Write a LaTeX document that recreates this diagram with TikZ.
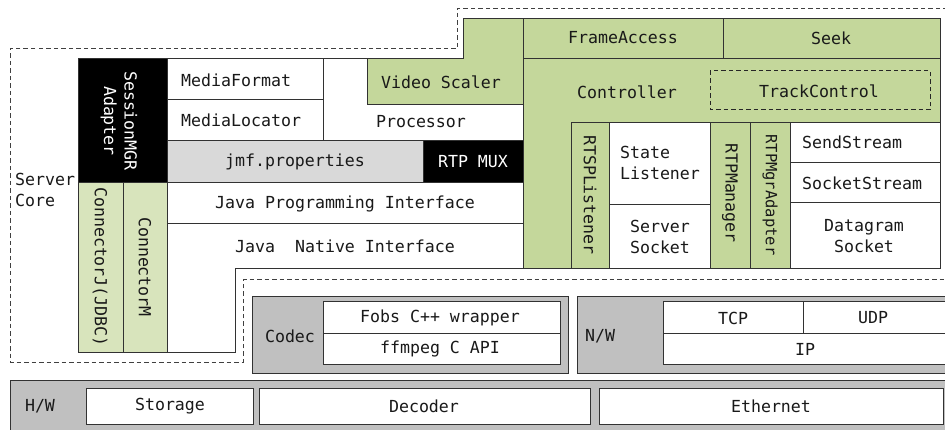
\documentclass[tikz,border=0pt]{standalone}
\usepackage{fontspec}
\setmainfont{DejaVu Sans Mono}
\setmonofont{DejaVu Sans Mono}
\definecolor{grn}{RGB}{196,215,155}
\definecolor{grnl}{RGB}{216,228,188}
\definecolor{gry}{RGB}{192,192,192}
\definecolor{gryl}{RGB}{217,217,217}
\definecolor{edge}{RGB}{50,50,50}
\begin{document}
\begin{tikzpicture}[x=1pt,y=-1pt,
  every node/.style={font=\fontsize{16.6}{20.5}\selectfont, inner sep=0pt, text=black!90},
  box/.style={draw=edge, line width=1pt},
  zone/.style={draw=black!75, line width=1pt, dash pattern=on 4.5pt off 3pt},
  lbl/.style={align=center},
  vlbl/.style={rotate=-90, align=center},
  inv/.style={text=white}]
\useasboundingbox (0,0) rectangle (945,430);

% server core zone outline
\draw[zone] (955,8.5) -- (457,8.5) -- (457,49) -- (10,49) -- (10,362) -- (243,362) -- (243,280) -- (955,280);

% Java side
\draw[box, fill=black] (78,59) rectangle (167,183);
\draw[box, fill=white] (167,59) rectangle (323,100);
\draw[box, fill=white] (167,100) rectangle (323,141);
\draw[box, fill=white] (323,59) rectangle (523,141);
\draw[box, fill=grn] (367,59) -- (463,59) -- (463,19) -- (523,19) -- (523,105) -- (367,105) -- cycle;
\draw[box, fill=gryl] (167,141) rectangle (423,183);
\draw[box, fill=black] (423,141) rectangle (523,183);
\draw[box, fill=grnl] (78,183) rectangle (123,352);
\draw[box, fill=grnl] (123,183) rectangle (167,352);
\draw[box, fill=white] (167,183) rectangle (523,224);
\draw[box, fill=white] (167,224) -- (523,224) -- (523,269) -- (235,269) -- (235,352) -- (167,352) -- cycle;

% streaming side
\draw[box, fill=grn] (523,19) rectangle (723,59);
\draw[box, fill=grn] (723,19) rectangle (940,59);
\draw[box, fill=grn] (523,59) -- (940,59) -- (940,123) -- (571,123) -- (571,269) -- (523,269) -- cycle;
\draw[zone, draw=black!85] (710,71) rectangle (930,110);
\draw[box, fill=grn] (571,123) rectangle (609,269);
\draw[box, fill=white] (609,123) rectangle (710,205);
\draw[box, fill=white] (609,205) rectangle (710,269);
\draw[box, fill=grn] (710,123) rectangle (750,269);
\draw[box, fill=grn] (750,123) rectangle (790,269);
\draw[box, fill=white] (790,123) rectangle (940,163);
\draw[box, fill=white] (790,163) rectangle (940,203);
\draw[box, fill=white] (790,203) rectangle (940,269);

% native layers
\draw[box, fill=gry] (252,297) rectangle (568,373);
\draw[box, fill=white] (323,302) rectangle (560,333);
\draw[box, fill=white] (323,333) rectangle (560,364);
\draw[box, fill=gry] (577,297) rectangle (960,373);
\draw[box, fill=white] (663,302) rectangle (803,333);
\draw[box, fill=white] (803,302) rectangle (960,333);
\draw[box, fill=white] (663,333) rectangle (960,364);

% hardware
\draw[box, fill=gry] (10,380) rectangle (960,440);
\draw[box, fill=white] (86,388) rectangle (253,424);
\draw[box, fill=white] (259,388) rectangle (590,424);
\draw[box, fill=white] (599,388) rectangle (943,424);

% labels
\node[align=left, anchor=west] (core) at (15,190) {Server\\Core};
\node[vlbl, inv] (smgr) at (119,121) {SessionMGR\\Adapter};
\node[vlbl] (cj) at (100,267) {ConnectorJ(JDBC)};
\node[vlbl] (cm) at (145,267) {ConnectorM};
\node[anchor=west] (mf) at (181,80) {MediaFormat};
\node[anchor=west] (ml) at (181,120) {MediaLocator};
\node (proc) at (421,122) {Processor};
\node (vs) at (441,82) {Video Scaler};
\node (jmf) at (295,162) {jmf.properties};
\node[inv] (mux) at (473,162) {RTP MUX};
\node (jpi) at (345,204) {Java Programming Interface};
\node (jni) at (345,246) {Java\ \ Native Interface};
\node (fa) at (623,38) {FrameAccess};
\node (seek) at (831,38) {Seek};
\node (ctl) at (627,92) {Controller};
\node (tc) at (819,91) {TrackControl};
\node[vlbl] (rtsp) at (590,195) {RTSPListener};
\node[align=left] (sl) at (660,163) {State\\Listener};
\node[align=left] (ss) at (660,237) {Server\\Socket};
\node[vlbl] (rm) at (730,193) {RTPManager};
\node[vlbl, font=\fontsize{15.5}{19}\selectfont] (rma) at (770,195) {RTPMgrAdapter};
\node[anchor=west] (send) at (802,142) {SendStream};
\node[anchor=west] (sock) at (802,183) {SocketStream};
\node[lbl] (dg) at (864,236) {Datagram\\Socket};
\node (codec) at (290,336) {Codec};
\node (fobs) at (440,318) {Fobs C++ wrapper};
\node (ff) at (440,349) {ffmpeg C API};
\node (nw) at (600,336) {N/W};
\node (tcp) at (733,318) {TCP};
\node (udp) at (873,318) {UDP};
\node (ip) at (805,349) {IP};
\node (hw) at (40,406) {H/W};
\node (st) at (170,406) {Storage};
\node (dec) at (424,406) {Decoder};
\node (eth) at (771,406) {Ethernet};
\end{tikzpicture}
\end{document}
